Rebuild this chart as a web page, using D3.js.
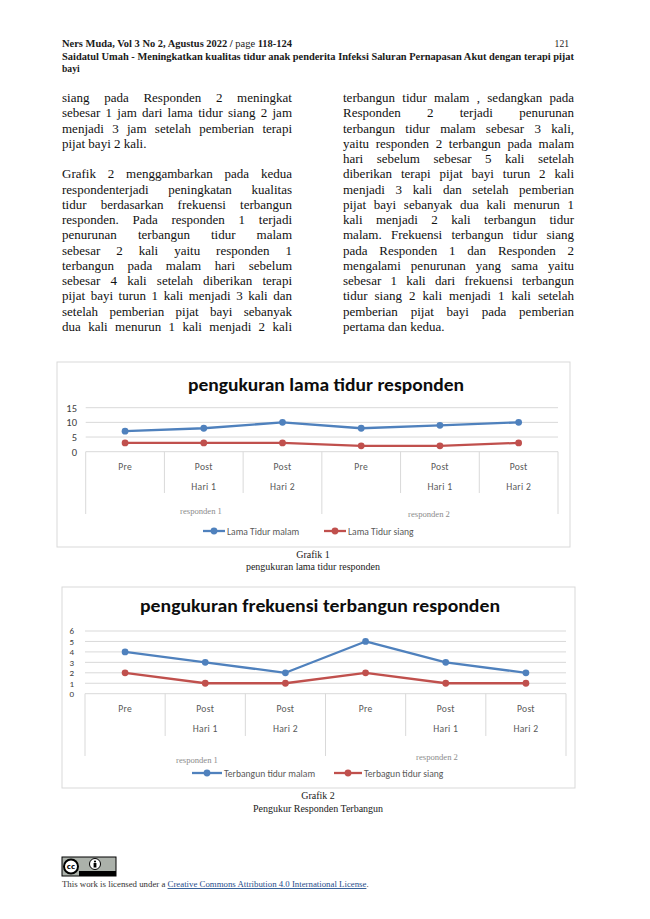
<!DOCTYPE html>
<html>
<head>
<meta charset="utf-8">
<script src="https://cdn.jsdelivr.net/npm/d3@7"></script>
<style>
body { margin: 0; background: #fff; }
svg { display: block; }
</style>
</head>
<body>
<svg id="page" width="650" height="919"></svg>
<script>
/*=================
=== The data
=================*/
var catTop = ['Pre', 'Post', 'Post', 'Pre', 'Post', 'Post'];
var catBottom = ['', 'Hari 1', 'Hari 2', '', 'Hari 1', 'Hari 2'];
var groups = ['responden 1', 'responden 2'];

// grafik 1 - lama tidur (jam)
var tidurMalam = [7, 8, 10, 8, 9, 10];
var tidurSiang = [3, 3, 3, 2, 2, 3];
var tidurTicks = [0, 5, 10, 15];
var tidurNames = ['Lama Tidur malam', 'Lama Tidur siang'];

// grafik 2 - frekuensi terbangun (kali)
var bangunMalam = [4, 3, 2, 5, 3, 2];
var bangunSiang = [2, 1, 1, 2, 1, 1];
var bangunTicks = [0, 1, 2, 3, 4, 5, 6];
var bangunNames = ['Terbangun tidur malam', 'Terbagun tidur siang'];

var leftLines = [
	'siang pada Responden 2 meningkat',
	'sebesar 1 jam dari lama tidur siang 2 jam',
	'menjadi 3 jam setelah pemberian terapi',
	'pijat bayi 2 kali.',
	null,
	'Grafik 2 menggambarkan pada kedua',
	'respondenterjadi peningkatan kualitas',
	'tidur berdasarkan frekuensi terbangun',
	'responden. Pada responden 1 terjadi',
	'penurunan terbangun tidur malam',
	'sebesar 2 kali yaitu responden 1',
	'terbangun pada malam hari sebelum',
	'sebesar 4 kali setelah diberikan terapi',
	'pijat bayi turun 1 kali menjadi 3 kali dan',
	'setelah pemberian pijat bayi sebanyak',
	'dua kali menurun 1 kali menjadi 2 kali'
];
var leftLast = [3];

var rightLines = [
	'terbangun tidur malam , sedangkan pada',
	'Responden 2 terjadi penurunan',
	'terbangun tidur malam sebesar 3 kali,',
	'yaitu responden 2 terbangun pada malam',
	'hari sebelum sebesar 5 kali setelah',
	'diberikan terapi pijat bayi turun 2 kali',
	'menjadi 3 kali dan setelah pemberian',
	'pijat bayi sebanyak dua kali menurun 1',
	'kali menjadi 2 kali terbangun tidur',
	'malam. Frekuensi terbangun tidur siang',
	'pada Responden 1 dan Responden 2',
	'mengalami penurunan yang sama yaitu',
	'sebesar 1 kali dari frekuensi terbangun',
	'tidur siang 2 kali menjadi 1 kali setelah',
	'pemberian pijat bayi pada pemberian',
	'pertama dan kedua.'
];
var rightLast = [15];

/*=================
=== The vars
=================*/
var svg = d3.select('#page');
var serif = '"Liberation Serif", "DejaVu Serif", serif';
var sans = 'Carlito, Lato, "Open Sans", sans-serif';
var blue = '#4f81bd';
var red = '#c0504d';
var grid = '#d9d9d9';
var labelCol = '#595959';

/*=================
=== Header
=================*/
var head = svg.append('g')
	.attr('font-family', serif)
	.attr('font-size', 9.6)
	.attr('fill', '#1a1a1a');

var h1 = head.append('text')
	.attr('x', 62).attr('y', 47)
	.attr('textLength', 230).attr('lengthAdjust', 'spacingAndGlyphs');
h1.append('tspan').attr('font-weight', 'bold').text('Ners Muda, Vol 3 No 2, Agustus 2022 / ');
h1.append('tspan').text('page ');
h1.append('tspan').attr('font-weight', 'bold').text('118-124');

head.append('text')
	.attr('x', 569).attr('y', 47)
	.attr('text-anchor', 'end')
	.text('121');

head.append('text')
	.attr('x', 62).attr('y', 60)
	.attr('font-weight', 'bold')
	.attr('textLength', 512).attr('lengthAdjust', 'spacingAndGlyphs')
	.text('Saidatul Umah - Meningkatkan kualitas tidur anak penderita Infeksi Saluran Pernapasan Akut dengan terapi pijat');

head.append('text')
	.attr('x', 62).attr('y', 72)
	.attr('font-weight', 'bold')
	.text('bayi');

/*=================
=== Body text
=================*/
function renderColumn(lines, lastIdx, x0, width) {
	var col = svg.append('g')
		.attr('font-family', serif)
		.attr('font-size', 13)
		.attr('fill', '#111');

	lines.forEach(function (str, i) {
		if (!str) return;
		var t = col.append('text')
			.attr('x', x0)
			.attr('y', 102 + i * 15.25)
			.text(str);
		if (lastIdx.indexOf(i) < 0) {
			var natural = t.node().getComputedTextLength();
			var gaps = str.split(' ').length - 1;
			if (gaps > 0) t.style('word-spacing', ((width - natural) / gaps) + 'px');
		}
	});
}

renderColumn(leftLines, leftLast, 62, 230);
renderColumn(rightLines, rightLast, 343, 231);

/*=================
=== Charts
=================*/
function renderChart(c) {
	var g = svg.append('g');

	g.append('rect')
		.attr('x', c.box[0]).attr('y', c.box[1])
		.attr('width', c.box[2]).attr('height', c.box[3])
		.attr('fill', '#fff')
		.attr('stroke', grid);

	g.append('text')
		.attr('x', c.titleX).attr('y', c.titleY)
		.attr('text-anchor', 'middle')
		.attr('font-family', sans)
		.attr('font-weight', 'bold')
		.attr('font-size', 18)
		.attr('fill', '#0d0d0d')
		.attr('textLength', c.titleW).attr('lengthAdjust', 'spacingAndGlyphs')
		.text(c.title);

	var x = d3.scaleBand().domain(d3.range(catTop.length)).range([c.x0, c.x1]);
	var y = d3.scaleLinear().domain([0, d3.max(c.ticks)]).range([c.y0, c.y1]);
	var bw = x.bandwidth();

	// gridlines
	g.selectAll('.grid')
		.data(c.ticks)
		.join('line')
		.attr('class', 'grid')
		.attr('x1', c.x0).attr('x2', c.x1)
		.attr('y1', function (d) { return y(d); })
		.attr('y2', function (d) { return y(d); })
		.attr('stroke', grid);

	// y labels
	var yAxis = g.append('g')
		.attr('transform', 'translate(' + c.yLabX + ',0)')
		.call(d3.axisLeft(y).tickValues(c.ticks).tickFormat(d3.format('d')).tickSize(0).tickPadding(0));
	yAxis.select('.domain').remove();
	yAxis.selectAll('text')
		.attr('font-family', sans)
		.attr('font-size', c.yFont)
		.attr('fill', '#404040');

	// category table
	d3.range(catTop.length + 1).forEach(function (k) {
		var xx = c.x0 + k * bw;
		g.append('line')
			.attr('x1', xx).attr('x2', xx)
			.attr('y1', c.y0)
			.attr('y2', k % 3 === 0 ? c.outerY : c.innerY)
			.attr('stroke', grid);
	});

	var cats = g.append('g')
		.attr('font-family', sans)
		.attr('font-size', 9.6)
		.attr('fill', labelCol)
		.attr('text-anchor', 'middle')
		.attr('letter-spacing', 0.3);
	catTop.forEach(function (d, i) {
		cats.append('text').attr('x', x(i) + bw / 2).attr('y', c.row1).text(d);
		cats.append('text').attr('x', x(i) + bw / 2).attr('y', c.row2).text(catBottom[i]);
	});

	groups.forEach(function (d, i) {
		g.append('text')
			.attr('x', c.groupPos[i][0]).attr('y', c.groupPos[i][1])
			.attr('text-anchor', 'middle')
			.attr('font-family', serif)
			.attr('font-size', 8.6)
			.attr('fill', '#8c8c8c')
			.text(d);
	});

	// series
	var line = d3.line()
		.x(function (d, i) { return x(i) + bw / 2; })
		.y(function (d) { return y(d); });

	c.series.forEach(function (s) {
		g.append('path')
			.datum(s.values)
			.attr('d', line)
			.attr('fill', 'none')
			.attr('stroke', s.color)
			.attr('stroke-width', 2.3)
			.attr('stroke-linejoin', 'round');
		g.selectAll(null)
			.data(s.values)
			.join('circle')
			.attr('cx', function (d, i) { return x(i) + bw / 2; })
			.attr('cy', function (d) { return y(d); })
			.attr('r', 3.4)
			.attr('fill', s.color);
	});

	// legend
	c.series.forEach(function (s, i) {
		var lx = c.legend[i];
		var lg = g.append('g').attr('transform', 'translate(' + lx[0] + ',' + c.legendY + ')');
		lg.append('line').attr('x1', 0).attr('x2', lx[1])
			.attr('stroke', s.color).attr('stroke-width', 2.3);
		lg.append('circle').attr('cx', lx[1] / 2).attr('r', 3.4).attr('fill', s.color);
		lg.append('text')
			.attr('x', lx[1] + 2).attr('y', 3.5)
			.attr('font-family', sans)
			.attr('font-size', 9.6)
			.attr('fill', labelCol)
			.text(s.name);
	});
}

renderChart({
	box: [57, 362, 513, 185],
	title: 'pengukuran lama tidur responden',
	titleX: 326, titleY: 391, titleW: 276,
	ticks: tidurTicks,
	x0: 85.7, x1: 558, y0: 451.7, y1: 407.7,
	yLabX: 77, yFont: 10.5,
	innerY: 493, outerY: 514,
	row1: 470, row2: 490,
	groupPos: [[201, 514], [429, 517]],
	legendY: 531,
	legend: [[203, 22], [324, 22]],
	series: [
		{ name: tidurNames[0], values: tidurMalam, color: blue },
		{ name: tidurNames[1], values: tidurSiang, color: red }
	]
});

renderChart({
	box: [62, 587, 513, 201],
	title: 'pengukuran frekuensi terbangun responden',
	titleX: 320, titleY: 612, titleW: 360,
	ticks: bangunTicks,
	x0: 85, x1: 566, y0: 693.7, y1: 631,
	yLabX: 74, yFont: 9,
	innerY: 736, outerY: 756,
	row1: 712, row2: 732,
	groupPos: [[197, 763], [437, 760]],
	legendY: 773,
	legend: [[192, 30], [334, 28]],
	series: [
		{ name: bangunNames[0], values: bangunMalam, color: blue },
		{ name: bangunNames[1], values: bangunSiang, color: red }
	]
});

/*=================
=== Captions
=================*/
var cap = svg.append('g')
	.attr('font-family', serif)
	.attr('font-size', 10)
	.attr('fill', '#1a1a1a')
	.attr('text-anchor', 'middle');
cap.append('text').attr('x', 313).attr('y', 558).text('Grafik 1');
cap.append('text').attr('x', 313).attr('y', 570).text('pengukuran lama tidur responden');
cap.append('text').attr('x', 318).attr('y', 799).text('Grafik 2');
cap.append('text').attr('x', 318).attr('y', 812).text('Pengukur Responden Terbangun');

/*=================
=== Footer
=================*/
var cc = svg.append('g').attr('transform', 'translate(62,857)');
cc.append('rect').attr('width', 54).attr('height', 19).attr('fill', '#abb1aa').attr('stroke', '#000').attr('stroke-width', 1);
cc.append('rect').attr('x', 17).attr('y', 14).attr('width', 37).attr('height', 5).attr('fill', '#000');
cc.append('circle').attr('cx', 9).attr('cy', 9.5).attr('r', 7).attr('fill', '#fff').attr('stroke', '#000').attr('stroke-width', 2);
cc.append('text').attr('x', 9).attr('y', 12).attr('text-anchor', 'middle')
	.attr('font-family', 'DejaVu Sans, sans-serif').attr('font-weight', 'bold').attr('font-size', 7).text('cc');
cc.append('circle').attr('cx', 33).attr('cy', 7).attr('r', 5.5).attr('fill', '#fff').attr('stroke', '#000');
cc.append('circle').attr('cx', 33).attr('cy', 4.5).attr('r', 1.1).attr('fill', '#000');
cc.append('rect').attr('x', 31.6).attr('y', 6).attr('width', 2.8).attr('height', 4.5).attr('fill', '#000');

var foot = svg.append('text')
	.attr('x', 62).attr('y', 887)
	.attr('font-family', serif)
	.attr('font-size', 8.8)
	.attr('fill', '#333');
foot.append('tspan').text('This work is licensed under a ');
foot.append('tspan')
	.attr('fill', '#1f4e8c')
	.attr('text-decoration', 'underline')
	.text('Creative Commons Attribution 4.0 International License');
foot.append('tspan').text('.');
</script>
</body>
</html>
